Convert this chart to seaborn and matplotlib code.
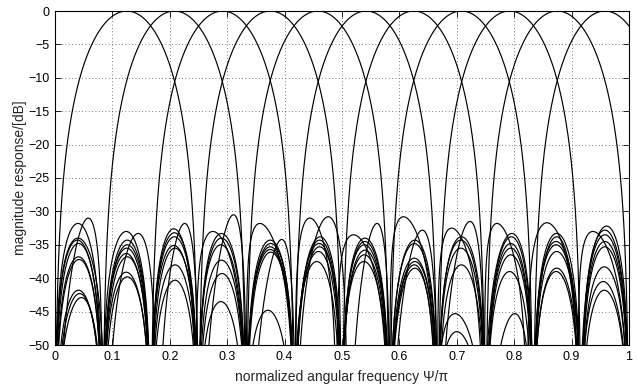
import numpy as np
import pandas as pd
import matplotlib
matplotlib.use("Agg")
import matplotlib.pyplot as plt
import seaborn as sns

# Centre frequencies (Psi/pi) of the eleven channel filters
channel_centres = [0.125, 0.208, 0.292, 0.375, 0.458, 0.542,
                   0.625, 0.708, 0.792, 0.875, 0.958]

# Stop-band zeros: the bands between neighbouring zeros
band_edges = [0.0, 0.083, 0.167, 0.25, 0.333, 0.417, 0.5,
              0.583, 0.667, 0.75, 0.833, 0.917, 1.0]

# Side-lobe peak levels [dB] found in each band (one entry per filter
# whose stop band covers that band) and where each peak lies
sidelobe_levels = [
    [-31.0, -31.8, -34.0, -34.3, -34.8, -36.8, -37.2, -41.8, -42.3, -42.9],
    [-33.0, -33.3, -34.3, -35.0, -35.5, -36.3, -36.8, -39.1, -39.8],
    [-31.8, -32.6, -33.2, -33.8, -35.1, -35.5, -38.0, -40.3],
    [-30.5, -33.0, -33.3, -34.0, -35.0, -37.3, -39.3, -43.5],
    [-31.8, -34.2, -34.3, -34.8, -35.3, -35.7, -36.1, -44.8],
    [-30.8, -31.0, -33.8, -34.3, -34.8, -35.3, -36.0, -37.5],
    [-31.8, -33.5, -34.0, -34.5, -35.0, -35.8, -36.5, -37.5],
    [-30.8, -32.8, -34.3, -34.8, -37.0, -37.5, -38.0, -38.5],
    [-31.5, -32.5, -33.8, -34.3, -35.5, -38.0, -45.3, -48.0],
    [-31.8, -33.3, -33.8, -34.8, -35.5, -36.5, -39.0, -45.3],
    [-31.7, -33.3, -33.8, -34.5, -35.0, -36.0, -38.5, -39.0],
    [-32.2, -32.8, -33.0, -33.5, -34.5, -35.3, -38.3, -40.5, -41.8],
]
sidelobe_peaks = [
    [0.058, 0.040, 0.040, 0.039, 0.041, 0.041, 0.042, 0.041, 0.043, 0.046],
    [0.124, 0.145, 0.126, 0.126, 0.125, 0.124, 0.126, 0.124, 0.126],
    [0.226, 0.207, 0.208, 0.208, 0.207, 0.209, 0.209, 0.209],
    [0.311, 0.275, 0.290, 0.290, 0.289, 0.290, 0.291, 0.289],
    [0.357, 0.395, 0.375, 0.376, 0.375, 0.375, 0.376, 0.371],
    [0.476, 0.444, 0.462, 0.461, 0.460, 0.461, 0.459, 0.456],
    [0.561, 0.520, 0.540, 0.540, 0.539, 0.540, 0.539, 0.538],
    [0.607, 0.640, 0.627, 0.626, 0.626, 0.627, 0.626, 0.627],
    [0.723, 0.691, 0.708, 0.707, 0.707, 0.708, 0.697, 0.700],
    [0.770, 0.796, 0.795, 0.794, 0.794, 0.794, 0.792, 0.801],
    [0.857, 0.874, 0.874, 0.873, 0.873, 0.874, 0.874, 0.873],
    [0.961, 0.958, 0.937, 0.958, 0.958, 0.958, 0.957, 0.955, 0.957],
]

x_ticks = [0, 0.1, 0.2, 0.3, 0.4, 0.5, 0.6, 0.7, 0.8, 0.9, 1]
x_tick_labels = ["0", "0.1", "0.2", "0.3", "0.4", "0.5",
                 "0.6", "0.7", "0.8", "0.9", "1"]
y_ticks = [-50, -45, -40, -35, -30, -25, -20, -15, -10, -5, 0]

freq = np.linspace(0.0, 1.0, 10001)
MAIN_HALF_WIDTH = 0.125
n_bands = len(band_edges) - 1


def main_lobe(x, centre):
    out = np.full_like(x, -np.inf)
    u = np.abs(x - centre) / MAIN_HALF_WIDTH
    m = u < 1
    out[m] = 32.0 * np.log10(np.cos(np.pi * u[m] / 2)) - 2.0 * u[m] ** 2
    return out


def side_lobe(x, a, b, peak_x, peak_db):
    out = np.full_like(x, -np.inf)
    m = (x > a) & (x < b)
    t = (x[m] - a) / (b - a)
    tp = (peak_x - a) / (b - a)
    g = np.log(0.5) / np.log(tp)
    out[m] = peak_db + 20.0 * np.log10(np.sin(np.pi * t ** g))
    return out


# filters with a stop band in each band (main lobe spans three bands)
stop_filters = [[j for j in range(len(channel_centres)) if k not in (j, j + 1, j + 2)]
                for k in range(n_bands)]

frames = []
with np.errstate(divide="ignore", invalid="ignore"):
    for j, c in enumerate(channel_centres):
        # this filter's side lobes, band by band
        lobes = {}
        for k in range(n_bands):
            if j in stop_filters[k]:
                slot = stop_filters[k].index(j)
                if slot < len(sidelobe_levels[k]):
                    lobes[k] = (sidelobe_peaks[k][slot], sidelobe_levels[k][slot])
        # zeros drift with the lopsided lobes next to them
        drift = {k: 0.5 * (p - 0.5 * (band_edges[k] + band_edges[k + 1]))
                 for k, (p, _) in lobes.items()}

        def zero_at(i):
            left, right = drift.get(i - 1), drift.get(i)
            if left is None or right is None:
                return band_edges[i]
            return band_edges[i] + 0.5 * (left + right)

        power = 10 ** (main_lobe(freq, c) / 10)
        for k, (p, lvl) in lobes.items():
            lobe = side_lobe(freq, zero_at(k), zero_at(k + 1), p, lvl)
            power = power + 10 ** (lobe / 10)
        mag = 10 * np.log10(power)
        mag = np.where(np.isfinite(mag), mag, -150.0)
        mag = np.maximum(mag, -150.0)
        frames.append(pd.DataFrame({"freq": freq, "mag": mag, "channel": j}))

df = pd.concat(frames, ignore_index=True)

sns.set_style("ticks")
plt.rcParams["font.family"] = ["Liberation Sans", "DejaVu Sans"]

fig = plt.figure(figsize=(6.37, 3.87), dpi=100)
ax = fig.add_axes([55 / 637, 1 - 345 / 387, 574 / 637, 334 / 387])

sns.lineplot(data=df, x="freq", y="mag", units="channel", estimator=None,
             sort=False, color="black", linewidth=0.85, legend=False, ax=ax)

ax.set_xlim(0, 1)
ax.set_ylim(-50, 0)
ax.set_xticks(x_ticks)
ax.set_xticklabels(x_tick_labels)
ax.set_yticks(y_ticks)
ax.grid(True, linestyle=(0, (1, 3)), color="0.3", linewidth=0.6)
ax.tick_params(direction="in", top=True, right=True, length=4, width=0.6,
               labelsize=9, colors="black", pad=4)
for sp in ax.spines.values():
    sp.set_visible(True)
    sp.set_linewidth(0.8)
    sp.set_color("black")

ax.set_xlabel("normalized angular frequency \u03a8/\u03c0", fontsize=10, labelpad=5)
ax.set_ylabel("magnitude response/[dB]", fontsize=10, labelpad=1)

fig.savefig("out.png", dpi=100)
